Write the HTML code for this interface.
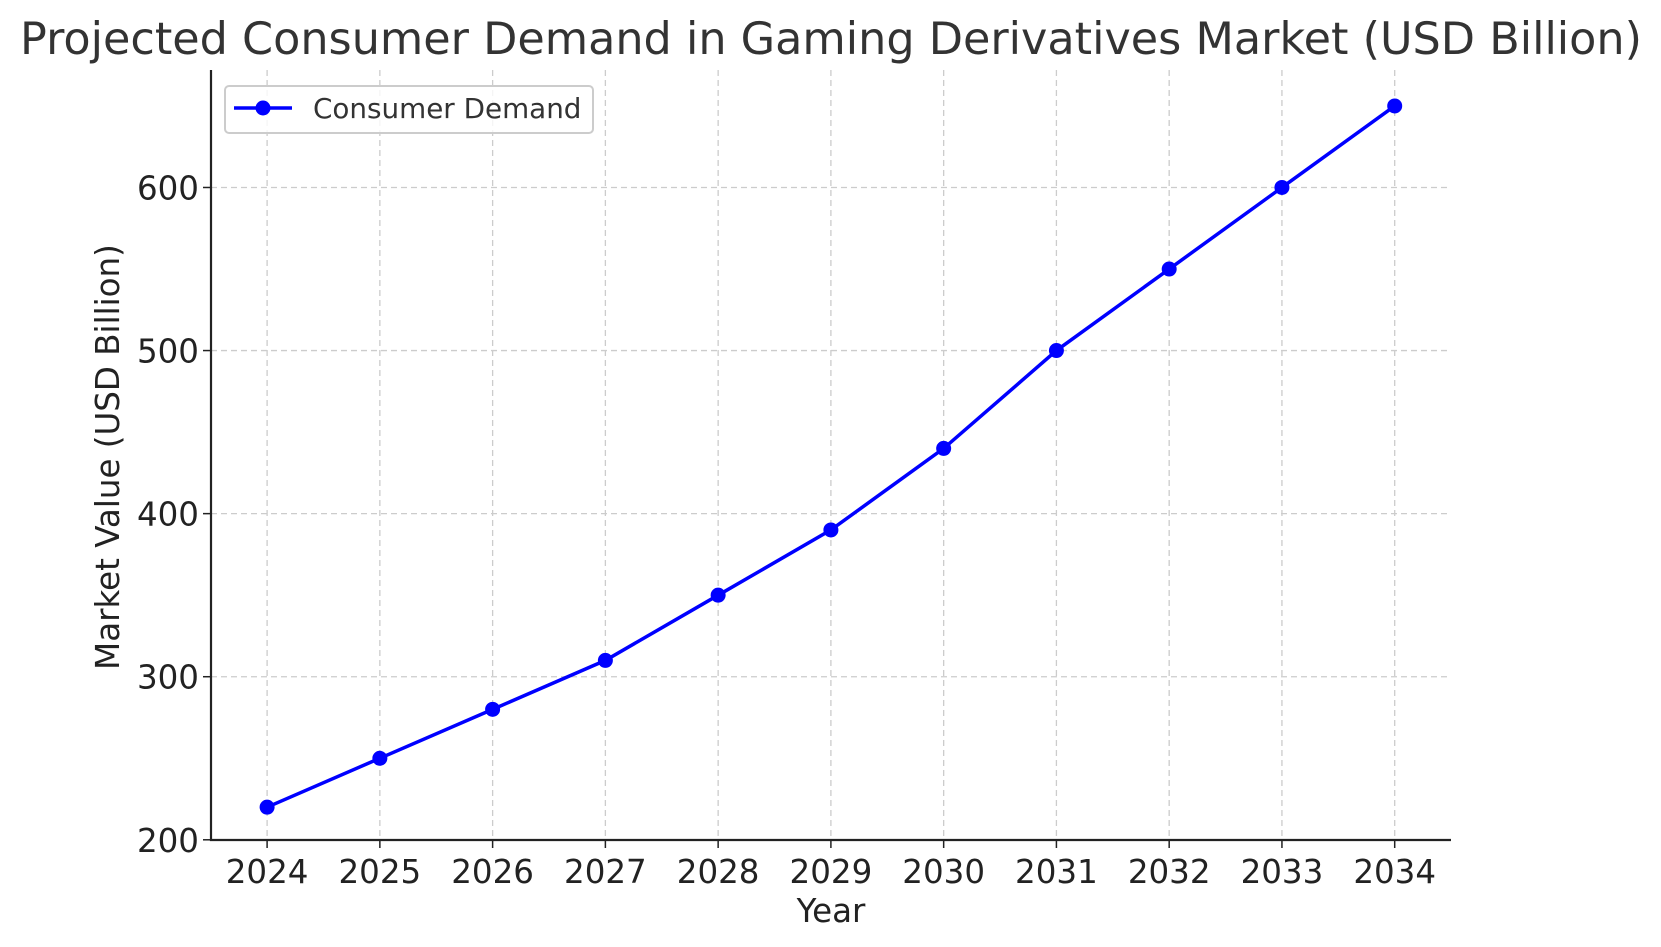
<!DOCTYPE html>
<html><head><meta charset="utf-8"><style>
body{margin:0;background:#fff;}
svg{display:block;font-family:"DejaVu Sans","Liberation Sans",sans-serif;}
</style></head><body>
<svg id="chart" width="1661" height="947" viewBox="0 0 1661 947">
<text x="831" y="54" text-anchor="middle" font-size="44.5" fill="#333">Projected Consumer Demand in Gaming Derivatives Market (USD Billion)</text>
<g id="grid"></g>
<g id="axes"></g>
<g id="series"></g>
<text x="831" y="922" text-anchor="middle" font-size="32.5" fill="#222">Year</text>
<text transform="translate(119,457) rotate(-90)" text-anchor="middle" font-size="32.5" fill="#222">Market Value (USD Billion)</text>
<g>
<rect x="225" y="86" width="368" height="47" rx="4" fill="#fff" fill-opacity="0.8" stroke="#ccc" stroke-width="2"/>
<line x1="234" y1="108" x2="292" y2="108" stroke="#0000ff" stroke-width="3.5"/>
<circle cx="263" cy="108" r="7.5" fill="#0000ff"/>
<text x="313" y="118" font-size="27.8" fill="#333">Consumer Demand</text>
</g>
</svg>
<script>
const years=[2024,2025,2026,2027,2028,2029,2030,2031,2032,2033,2034];
const demand=[220,250,280,310,350,390,440,500,550,600,650];
const yTicks=[200,300,400,500,600];
const L=211,R=1451,T=70,B=840;
const x=v=>267.1+(v-2024)*112.76;
const y=v=>839.8-(v-200)*1.6308;
const NS='http://www.w3.org/2000/svg';
function mk(tag,attrs,parent){const e=document.createElementNS(NS,tag);for(const k in attrs)e.setAttribute(k,attrs[k]);document.getElementById(parent).appendChild(e);return e;}
years.forEach(yr=>{
 const g=mk('line',{x1:x(yr),x2:x(yr),y1:T,y2:B,stroke:'#ccc','stroke-width':1.3,'stroke-dasharray':'6,4'},'grid');
 
 
 const t=mk('line',{x1:x(yr),x2:x(yr),y1:B,y2:B+8,stroke:'#222','stroke-width':1.5},'axes');
 
 
 const l=mk('text',{x:x(yr),y:B+43,'text-anchor':'middle','font-size':32.5,fill:'#222'},'axes');
 l.textContent=yr;
 
 
});
yTicks.forEach(v=>{
 const g=mk('line',{x1:L,x2:R,y1:y(v),y2:y(v),stroke:'#ccc','stroke-width':1.3,'stroke-dasharray':'6,4'},'grid');
 
 
 const t=mk('line',{x1:L-8,x2:L,y1:y(v),y2:y(v),stroke:'#222','stroke-width':1.5},'axes');
 
 
 const l=mk('text',{x:L-12,y:y(v)+12,'text-anchor':'end','font-size':32.5,fill:'#222'},'axes');
 l.textContent=v;
 
 
});
const ax=mk('path',{d:`M${L},${T} L${L},${B} L${R},${B}`,fill:'none',stroke:'#222','stroke-width':2.2},'axes');


const line=mk('polyline',{points:years.map((yr,i)=>x(yr)+','+y(demand[i])).join(' '),fill:'none',stroke:'#0000ff','stroke-width':3.5},'series');


years.forEach((yr,i)=>{
 const c=mk('circle',{cx:x(yr),cy:y(demand[i]),r:7.5,fill:'#0000ff'},'series');
 
 
});
</script>
</body></html>
